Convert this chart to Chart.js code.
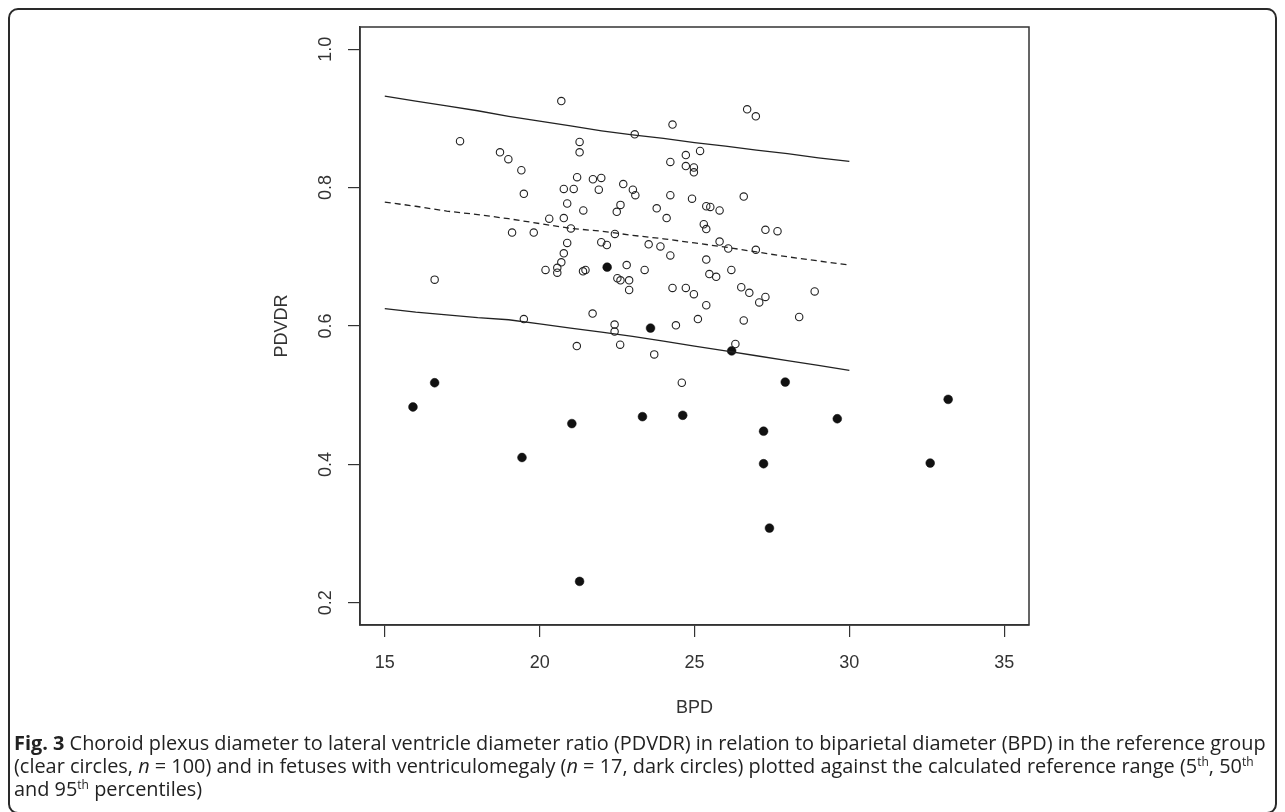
<!DOCTYPE html>
<html>
<head>
<meta charset="utf-8">
<script src="https://cdn.jsdelivr.net/npm/chart.js@4/dist/chart.umd.min.js"></script>
<style>
    html, body { margin: 0; padding: 0; background: #fff; }
    body { width: 1285px; height: 812px; position: relative; overflow: hidden; }
    #frame {
        position: absolute; left: 8px; top: 8px; width: 1269px; height: 806px;
        box-sizing: border-box; border: 2px solid #2a2a2a; border-radius: 10px;
    }
    #chartBox { position: absolute; left: 0; top: 0; width: 1285px; height: 730px; }
    #caption {
        position: absolute; left: 14px; top: 731px; width: 1265px;
        font-family: "Open Sans", sans-serif; font-size: 19.9px; line-height: 23px;
        color: #222; white-space: nowrap;
    }
    #caption sup { font-size: 12px; line-height: 0; vertical-align: 7px; }
</style>
</head>
<body>
<div id="frame"></div>
<div id="chartBox"><canvas id="plexusChart"></canvas></div>
<div id="caption"><b>Fig. 3</b> Choroid plexus diameter to lateral ventricle diameter ratio (PDVDR) in relation to biparietal diameter (BPD) in the reference group<br>(clear circles, <i>n</i> = 100) and in fetuses with ventriculomegaly (<i>n</i> = 17, dark circles) plotted against the calculated reference range (5<sup>th</sup>, 50<sup>th</sup><br>and 95<sup>th</sup> percentiles)</div>

<script>
// reference group (clear circles)
const openBPD = [20.70, 17.43, 21.29, 21.29, 18.72, 18.99, 19.41, 21.21, 21.72, 21.99,
    20.78, 21.10, 21.91, 19.49, 20.89, 21.41, 20.31, 20.78, 21.01, 19.11,
    19.81, 20.89, 21.99, 22.17, 20.78, 20.70, 20.19, 20.57, 20.57, 21.40,
    21.48, 16.61, 19.49, 21.71, 21.20, 26.70, 26.98, 24.29, 23.07, 25.18,
    24.72, 24.22, 24.72, 24.98, 24.98, 22.70, 23.01, 23.09, 24.22, 24.92,
    26.59, 22.61, 22.49, 23.78, 24.10, 25.38, 25.51, 25.81, 25.30, 25.38,
    27.29, 27.68, 22.43, 23.52, 23.90, 25.81, 26.09, 26.98, 24.22, 25.38,
    22.81, 23.39, 26.19, 22.51, 22.61, 22.89, 22.89, 25.48, 25.70, 24.29,
    24.72, 24.98, 26.51, 26.77, 27.29, 27.09, 28.88, 25.38, 22.42, 22.42,
    24.40, 25.11, 26.59, 28.38, 22.60, 23.70, 26.32, 24.59];
const openPDVDR = [0.925, 0.867, 0.866, 0.851, 0.851, 0.841, 0.825, 0.815, 0.812, 0.814,
    0.798, 0.798, 0.797, 0.791, 0.777, 0.767, 0.755, 0.756, 0.741, 0.735,
    0.735, 0.720, 0.721, 0.717, 0.705, 0.692, 0.681, 0.684, 0.677, 0.679,
    0.681, 0.667, 0.610, 0.618, 0.571, 0.913, 0.903, 0.891, 0.877, 0.853,
    0.847, 0.837, 0.831, 0.829, 0.822, 0.805, 0.797, 0.789, 0.789, 0.784,
    0.787, 0.775, 0.765, 0.770, 0.756, 0.773, 0.772, 0.767, 0.747, 0.740,
    0.739, 0.737, 0.733, 0.718, 0.715, 0.722, 0.712, 0.710, 0.702, 0.696,
    0.688, 0.681, 0.681, 0.669, 0.666, 0.666, 0.652, 0.675, 0.671, 0.655,
    0.655, 0.646, 0.656, 0.648, 0.642, 0.634, 0.650, 0.630, 0.602, 0.592,
    0.601, 0.610, 0.608, 0.613, 0.573, 0.559, 0.574, 0.518];

// ventriculomegaly (dark circles)
const darkBPD = [15.91, 16.61, 19.43, 21.04, 21.29, 22.18, 23.32, 23.58, 24.62,
    26.20, 27.23, 27.23, 27.42, 27.93, 29.61, 32.61, 33.19];
const darkPDVDR = [0.483, 0.518, 0.410, 0.459, 0.231, 0.685, 0.469, 0.597, 0.471,
    0.564, 0.448, 0.401, 0.308, 0.519, 0.466, 0.402, 0.494];

// reference range curves
const curveBPD = [15, 16, 17, 18, 19, 20, 21, 22, 23, 24, 25, 26, 27, 28, 29, 30];
const p95 = [0.932, 0.925, 0.918, 0.911, 0.903, 0.896, 0.889, 0.882, 0.876, 0.871, 0.865, 0.860, 0.854, 0.849, 0.843, 0.838];
const p50 = [0.779, 0.773, 0.766, 0.761, 0.755, 0.748, 0.741, 0.737, 0.731, 0.726, 0.720, 0.714, 0.707, 0.700, 0.694, 0.688];
const p5 = [0.625, 0.620, 0.616, 0.612, 0.609, 0.603, 0.597, 0.591, 0.585, 0.578, 0.571, 0.564, 0.557, 0.550, 0.543, 0.536];

const xTicks = [15, 20, 25, 30, 35];
const yTicks = [0.2, 0.4, 0.6, 0.8, 1.0];

const toPoints = (xs, ys) => xs.map((x, i) => ({ x: x, y: ys[i] }));
const axisFont = { family: '"Liberation Sans", Arial, sans-serif', size: 18 };
const ink = '#222';

// full box round the plot, like R's box()
const boxPlugin = {
    id: 'plotBox',
    afterDraw(chart) {
        const a = chart.chartArea;
        const ctx = chart.ctx;
        ctx.save();
        ctx.strokeStyle = '#333';
        ctx.lineWidth = 1.5;
        ctx.strokeRect(a.left, a.top, a.right - a.left, a.bottom - a.top);
        ctx.restore();
    }
};

function curve(label, ys, dash) {
    return {
        label: label,
        data: toPoints(curveBPD, ys),
        showLine: true,
        borderColor: ink,
        borderWidth: 1.3,
        borderDash: dash,
        pointRadius: 0,
        fill: false,
        tension: 0
    };
}

const ctx = document.getElementById('plexusChart').getContext('2d');
const chart = new Chart(ctx, {
    type: 'scatter',
    data: {
        datasets: [
            curve('95th', p95, []),
            curve('50th', p50, [6, 4]),
            curve('5th', p5, []),
            {
                label: 'Reference group',
                data: toPoints(openBPD, openPDVDR),
                pointStyle: 'circle',
                pointRadius: 3.7,
                borderWidth: 1.1,
                borderColor: ink,
                backgroundColor: 'rgba(0,0,0,0)'
            },
            {
                label: 'Ventriculomegaly',
                data: toPoints(darkBPD, darkPDVDR),
                pointStyle: 'circle',
                pointRadius: 4.4,
                borderWidth: 0.5,
                borderColor: '#111',
                backgroundColor: '#111'
            }
        ]
    },
    options: {
        responsive: true,
        maintainAspectRatio: false,
        animation: false,
        events: [],
        layout: { padding: { left: 271, right: 256, top: 27, bottom: 11 } },
        plugins: { legend: { display: false }, tooltip: { enabled: false } },
        scales: {
            x: {
                type: 'linear',
                min: 14.2,
                max: 35.8,
                afterBuildTicks: scale => { scale.ticks = xTicks.map(v => ({ value: v })); },
                afterFit: scale => { scale.height = 94; },
                grid: { display: true, drawOnChartArea: false, drawTicks: true, tickLength: 12, color: '#333', lineWidth: 1.2 },
                border: { display: true, color: '#333', width: 1.5 },
                ticks: { font: axisFont, color: '#333', padding: 15, autoSkip: false, maxRotation: 0 },
                title: { display: true, text: 'BPD', font: axisFont, color: '#333', padding: 0 }
            },
            y: {
                type: 'linear',
                min: 0.168,
                max: 1.032,
                afterBuildTicks: scale => { scale.ticks = yTicks.map(v => ({ value: v })); },
                afterFit: scale => { scale.width = 89; },
                grid: { display: true, drawOnChartArea: false, drawTicks: true, tickLength: 12, color: '#333', lineWidth: 1.2 },
                border: { display: true, color: '#333', width: 1.5 },
                ticks: {
                    font: axisFont, color: '#333', padding: 9, autoSkip: false,
                    minRotation: 90, maxRotation: 90, crossAlign: 'center',
                    callback: v => v.toFixed(1)
                },
                title: { display: true, text: 'PDVDR', font: axisFont, color: '#333', padding: 0 }
            }
        }
    },
    plugins: [boxPlugin]
});
</script>
</body>
</html>
